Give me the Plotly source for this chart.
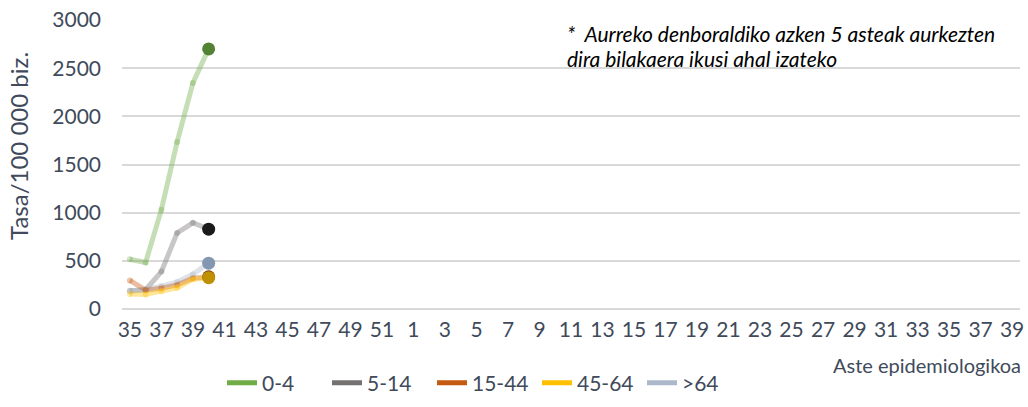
import plotly.graph_objects as go

# x-axis categories: epidemiological weeks 35..52 then 1..39
weeks = [str(w) for w in range(35, 53)] + [str(w) for w in range(1, 40)]
tick_labels = weeks[::2]

# previous season's last 5 weeks (35-39) plus current week 40
line_weeks = ["35", "36", "37", "38", "39", "40"]
groups = ["0-4", "5-14", "15-44", "45-64", ">64"]
v_0_4 = [517, 483, 1031, 1734, 2346, 2700]
v_5_14 = [190, 200, 388, 790, 895, 829]
v_15_44 = [297, 195, 215, 250, 320, 335]
v_45_64 = [157, 150, 185, 220, 308, 325]
v_64 = [185, 203, 238, 280, 360, 476]
values = [v_0_4, v_5_14, v_15_44, v_45_64, v_64]

colors = ["#70AD47", "#767171", "#C55A11", "#FFC000", "#ADB9CA"]
dot_colors = ["#548235", "#1A1A1A", "#843C0C", "#BF9000", "#8497B0"]

note_lines = ["*  Aurreko denboraldiko azken 5 asteak aurkezten",
              "dira bilakaera ikusi ahal izateko"]

def rgba(h, a):
    h = h.lstrip("#")
    return "rgba(%d,%d,%d,%.2f)" % (int(h[0:2], 16), int(h[2:4], 16), int(h[4:6], 16), a)

# x positions: index of each week on the category axis (week 40 follows 39)
xidx = [weeks.index(w) for w in line_weeks[:5]]
xidx.append(xidx[-1] + 1)

fig = go.Figure()
draw_order = [0, 1, 4, 2, 3]
for i in draw_order:
    fig.add_trace(go.Scatter(
        x=xidx, y=values[i], mode="lines+markers",
        line=dict(color=rgba(colors[i], 0.4), width=5),
        marker=dict(color=rgba(colors[i], 0.35), size=6),
        showlegend=False, hoverinfo="skip"))
for i in [0, 1, 2, 4, 3]:
    fig.add_trace(go.Scatter(
        x=[xidx[-1]], y=[values[i][-1]], mode="markers",
        marker=dict(color=dot_colors[i], size=13),
        showlegend=False, name=groups[i]))
for i in range(5):
    fig.add_trace(go.Scatter(
        x=[None], y=[None], mode="lines", name=groups[i],
        line=dict(color=colors[i], width=5)))

font_main = "Lato, 'Open Sans', sans-serif"
txt = "#404A5A"
FS = 21
W, H = 1028, 407
PL, PT, PW, PH = 122, 20, 898, 289

fig.update_layout(
    width=W, height=H,
    margin=dict(l=PL, r=W - PL - PW, t=PT, b=H - PT - PH),
    paper_bgcolor="white", plot_bgcolor="white",
    font=dict(family=font_main, size=FS, color=txt),
    showlegend=True,
    legend=dict(orientation="h", xref="container", yref="container",
                x=222 / W, xanchor="left",
                y=(H - 383) / H, yanchor="middle",
                font=dict(size=FS, color=txt), traceorder="normal",
                entrywidth=60, bgcolor="rgba(0,0,0,0)"),
    xaxis=dict(
        range=[-0.5, len(weeks) - 0.5],
        tickmode="array",
        tickvals=list(range(0, len(weeks), 2)),
        ticktext=tick_labels,
        showgrid=False, zeroline=False, showline=False, ticks="",
        ticklabelstandoff=6,
        tickfont=dict(size=FS, color=txt), automargin=False,
    ),
    yaxis=dict(
        range=[0, 3000], dtick=500,
        showgrid=True, gridcolor="#D9D9D9", gridwidth=1.5,
        zeroline=True, zerolinecolor="#D9D9D9", zerolinewidth=1.5,
        showline=False, ticks="",
        ticklabelstandoff=20,
        tickfont=dict(size=FS, color=txt), automargin=False,
    ),
)

# y-axis title
fig.add_annotation(
    xref="paper", yref="paper", x=(18 - PL) / PW, y=1 - (146 - PT) / PH,
    xanchor="center", yanchor="middle", textangle=-90,
    text="Tasa/100 000 biz.", showarrow=False,
    font=dict(family=font_main, size=24, color=txt))

for k, (line, yc) in enumerate(zip(note_lines, [33, 58])):
    fig.add_annotation(
        xref="paper", yref="paper", x=(565 - PL) / PW, y=1 - (yc - PT) / PH,
        xanchor="left", yanchor="middle",
        text="<i>" + line + "</i>", showarrow=False, align="left",
        font=dict(family=font_main, size=FS, color="#000000"))

fig.add_annotation(
    xref="paper", yref="paper", x=(1023 - PL) / PW, y=-(365 - PT - PH) / PH,
    xanchor="right", yanchor="middle",
    text="Aste epidemiologikoa", showarrow=False,
    font=dict(family=font_main, size=20, color=txt))

fig.write_html(
    "out.html",
    config={"displayModeBar": False},
    post_script="document.body.style.margin='0';document.body.style.overflow='hidden';")
